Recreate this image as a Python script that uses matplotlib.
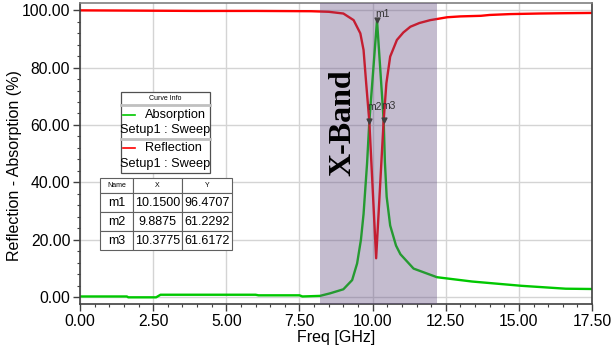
import numpy as np
import matplotlib
matplotlib.use('Agg')
import matplotlib.pyplot as plt
from matplotlib.ticker import MultipleLocator, FormatStrFormatter
from matplotlib.patches import Rectangle
from matplotlib.lines import Line2D
from matplotlib.transforms import ScaledTranslation

plt.rcParams['font.family'] = ['Liberation Sans', 'DejaVu Sans']

# Absorption curve (green)
abs_freq = [0.0, 1.6, 1.65, 2.6, 2.75, 6.0, 6.1, 7.5, 7.6, 8.2, 8.55, 9.0, 9.3,
            9.47, 9.6, 9.69, 9.81, 9.8875, 10.15, 10.3775, 10.42, 10.48, 10.6,
            10.8, 10.95, 11.4, 12.2, 13.4, 15.1, 16.6, 17.5]
abs_val = [0.3, 0.3, 0.0, 0.0, 0.9, 0.9, 0.7, 0.7, 0.3, 0.5, 1.4, 2.8, 6.0,
           11.8, 20.0, 29.0, 46.6, 61.2, 96.47, 61.6, 47.0, 35.0, 25.0,
           18.0, 15.0, 10.0, 7.0, 5.5, 4.0, 3.0, 2.9]

# Reflection curve (red)
ref_freq = [0.0, 2.0, 4.0, 6.0, 7.9, 8.5, 9.0, 9.35, 9.58, 9.69, 9.78, 9.8875,
            10.12, 10.3775, 10.47, 10.6, 10.83, 11.05, 11.29, 11.6, 11.97, 12.55,
            13.0, 13.7, 14.0, 14.7, 15.7, 16.5, 17.5]
ref_val = [99.9, 99.8, 99.7, 99.7, 99.6, 99.4, 98.8, 96.5, 91.9, 86.1, 74.5, 61.2,
           13.6, 61.6, 74.5, 83.8, 89.6, 92.2, 94.2, 95.5, 96.5, 97.5,
           97.8, 98.0, 98.3, 98.6, 98.8, 98.9, 99.0]

# markers
marker_names = ['m1', 'm2', 'm3']
marker_x = [10.1500, 9.8875, 10.3775]
marker_y = [96.4707, 61.2292, 61.6172]

band_lo, band_hi = 8.2, 12.2

fig = plt.figure(figsize=(6.11, 3.53), dpi=100)
ax = fig.add_axes([0.131, 0.139, 0.838, 0.852])

ax.plot(abs_freq, abs_val, color='#00c800', lw=1.7, zorder=2)
ax.plot(ref_freq, ref_val, color='#ff0000', lw=1.7, zorder=2)

# X-band overlay (drawn on top of the curves)
ax.axvspan(band_lo, band_hi, color='#644f83', alpha=0.38, lw=0, zorder=3)

# markers
ax.scatter(marker_x, marker_y, marker='v', s=12, color='#404040', zorder=5)
offsets = [(-1, 2.5), (-1.5, 8), (-1.5, 8)]
for name, mx, my, off in zip(marker_names, marker_x, marker_y, offsets):
    ax.annotate(name, (mx, my), xytext=off, textcoords='offset points',
                fontsize=7.5, color='#333333', zorder=6)

ax.text(9.0, 60.7, 'X-Band', rotation=90, family='Liberation Serif',
        fontweight='bold', fontsize=23, ha='center', va='center', zorder=6)

ax.set_xlim(0, 17.5)
ax.set_ylim(-2.3, 102.4)
ax.xaxis.set_major_locator(MultipleLocator(2.5))
ax.xaxis.set_minor_locator(MultipleLocator(0.5))
ax.yaxis.set_major_locator(MultipleLocator(20))
ax.yaxis.set_minor_locator(MultipleLocator(4))
ax.xaxis.set_major_formatter(FormatStrFormatter('%.2f'))
ax.yaxis.set_major_formatter(FormatStrFormatter('%.2f'))
ax.tick_params(which='major', length=5, width=1, labelsize=11.3, pad=2,
               color='#404040')
ax.tick_params(which='minor', length=2.5, width=0.8, color='#404040')
ax.grid(True, which='major', color='#d4d4d4', lw=1, zorder=0)
ax.set_axisbelow(True)
for s in ax.spines.values():
    s.set_color('#404040')
    s.set_linewidth(1.2)
ax.spines['top'].set_color('#808080')

# nudge the last x tick label inward so it stays on the canvas
fig.canvas.draw()
last = ax.get_xticklabels()[-1]
last.set_transform(last.get_transform() + ScaledTranslation(-3 / 100, 0, fig.dpi_scale_trans))

ax.set_xlabel('Freq [GHz]', fontsize=11.5, labelpad=1)
ax.set_ylabel('Reflection - Absorption (%)', fontsize=11.5)
ax.yaxis.set_label_coords(-0.113, 0.46)

# Curve info box
tr = ax.transAxes
x0, x1, y0, y1 = 0.080, 0.254, 0.435, 0.704
ax.add_patch(Rectangle((x0, y0), x1 - x0, y1 - y0, transform=tr, fc='white',
                       ec='#505050', lw=0.9, zorder=7))
ax.add_line(Line2D([x0, x1], [0.661, 0.661], transform=tr, color='#c0c0c0',
                   lw=2, zorder=8))
ax.add_line(Line2D([x0, x1], [0.548, 0.548], transform=tr, color='#c0c0c0',
                   lw=2, zorder=8))
ax.text(0.167, 0.683, 'Curve Info', transform=tr, fontsize=5, ha='center',
        va='center', zorder=8)
ax.add_line(Line2D([0.084, 0.107], [0.628, 0.628], transform=tr,
                   color='#00c800', lw=1.2, zorder=8))
ax.text(0.127, 0.628, 'Absorption', transform=tr, fontsize=9.2, ha='left',
        va='center', zorder=8)
ax.text(0.167, 0.578, 'Setup1 : Sweep', transform=tr, fontsize=9.2,
        ha='center', va='center', zorder=8)
ax.add_line(Line2D([0.084, 0.107], [0.518, 0.518], transform=tr,
                   color='#ff0000', lw=1.2, zorder=8))
ax.text(0.127, 0.518, 'Reflection', transform=tr, fontsize=9.2, ha='left',
        va='center', zorder=8)
ax.text(0.167, 0.465, 'Setup1 : Sweep', transform=tr, fontsize=9.2,
        ha='center', va='center', zorder=8)

# marker table
cells = [[n, '%.4f' % x, '%.4f' % y] for n, x, y in zip(marker_names, marker_x, marker_y)]
tab = ax.table(cellText=cells, colLabels=['Name', 'X', 'Y'],
               colWidths=[0.25, 0.37, 0.38], cellLoc='center',
               bbox=[0.039, 0.179, 0.258, 0.239], zorder=8)
tab.auto_set_font_size(False)
for (r, c), cell in tab.get_celld().items():
    cell.set_edgecolor('#606060')
    cell.set_linewidth(0.8)
    if r == 0:
        cell.set_height(0.15)
        cell.get_text().set_fontsize(5)
    else:
        cell.set_height(0.19)
        cell.get_text().set_fontsize(9)

fig.savefig('out.png', dpi=100)
